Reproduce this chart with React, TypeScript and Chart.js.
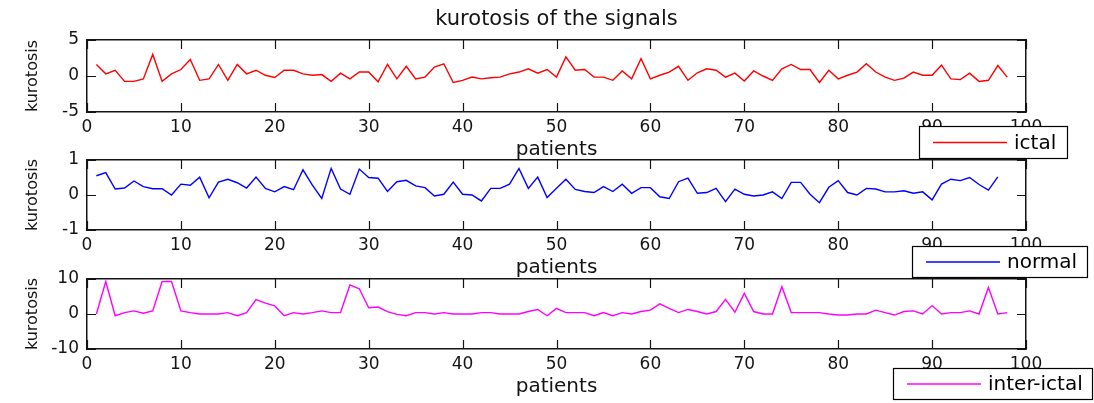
import React, { useEffect, useRef } from "react";
import { Chart, registerables } from "chart.js";

Chart.register(...registerables);

const W = 1094;
const H = 403;
const FONT = "'DejaVu Sans', 'Liberation Sans', sans-serif";

// ---- text ----
const mainTitle = "kurotosis of the signals";
const yAxisLabel = "kurotosis";
const xAxisLabel = "patients";

// ---- series ----
const seriesNames = ["ictal", "normal", "inter-ictal"];
const seriesColors = ["#ff0000", "#0000ff", "#ff00ff"];

const ictal = [
  1.6, 0.3, 0.8, -0.75, -0.75, -0.4, 3.0, -0.75, 0.3, 0.9,
  2.3, -0.6, -0.4, 1.6, -0.6, 1.6, 0.3, 0.8, 0.1, -0.2,
  0.8, 0.8, 0.3, 0.1, 0.2, -0.75, 0.4, -0.4, 0.55, 0.55,
  -0.8, 1.6, -0.4, 1.35, -0.4, -0.15, 1.25, 1.7, -0.9, -0.6,
  -0.15, -0.4, -0.25, -0.15, 0.3, 0.55, 1.0, 0.4, 0.9, -0.15,
  2.65, 0.8, 0.9, -0.15, -0.15, -0.6, 0.7, -0.4, 2.4, -0.4,
  0.1, 0.55, 1.35, -0.6, 0.45, 1.0, 0.8, -0.15, 0.4, -0.7,
  0.7, 0.0, -0.6, 1.0, 1.6, 0.9, 0.9, -0.9, 0.8, -0.4,
  0.1, 0.55, 1.7, 0.55, -0.15, -0.6, -0.3, 0.55, 0.1, 0.1,
  1.5, -0.4, -0.5, 0.4, -0.75, -0.6, 1.45, -0.15,
];

const normal = [
  0.55, 0.64, 0.17, 0.2, 0.4, 0.24, 0.18, 0.18, 0.0, 0.31,
  0.28, 0.51, -0.08, 0.37, 0.45, 0.35, 0.2, 0.51, 0.19, 0.09,
  0.24, 0.15, 0.72, 0.28, -0.1, 0.76, 0.17, 0.02, 0.74, 0.5,
  0.48, 0.1, 0.38, 0.42, 0.26, 0.21, -0.03, 0.02, 0.37, 0.02,
  0.0, -0.17, 0.19, 0.19, 0.31, 0.76, 0.19, 0.51, -0.07, 0.19,
  0.45, 0.16, 0.1, 0.07, 0.24, 0.1, 0.31, 0.05, 0.21, 0.21,
  -0.05, -0.1, 0.38, 0.48, 0.05, 0.07, 0.19, -0.19, 0.17, 0.02,
  -0.03, 0.0, 0.09, -0.1, 0.36, 0.36, 0.02, -0.22, 0.22, 0.41,
  0.07, 0.0, 0.19, 0.17, 0.09, 0.09, 0.12, 0.05, 0.09, -0.14,
  0.31, 0.45, 0.41, 0.5, 0.3, 0.14, 0.52,
];

const interIctal = [
  0, 9.3, -0.5, 0.4, 0.9, 0.2, 0.9, 9.3, 9.3, 0.9,
  0.4, 0, 0, 0, 0.4, -0.5, 0.4, 4.1, 3.1, 2.3,
  -0.5, 0.4, 0, 0.4, 0.9, 0.4, 0.4, 8.3, 7.2, 1.8,
  2.0, 0.7, -0.1, -0.5, 0.4, 0.4, 0, 0.4, 0, 0,
  0, 0.4, 0.4, 0, 0, 0, 0.7, 1.3, -0.5, 1.6,
  0.4, 0.4, 0.4, -0.5, 0.4, -0.5, 0.4, 0, 0.7, 1.1,
  2.9, 1.6, 0.4, 1.3, 0.7, 0, 0.7, 4.2, 0.5, 5.9,
  0.7, 0, 0, 7.8, 0.4, 0.4, 0.4, 0.4, 0, -0.3,
  -0.3, 0, 0, 1.1, 0.4, -0.3, 0.7, 0.9, 0, 2.4,
  0, 0.4, 0.4, 0.9, 0, 7.6, 0, 0.4,
];

const seriesValues = [ictal, normal, interIctal];

// ---- axes ----
const xMin = 0;
const xMax = 100;
const xStep = 10;
const yMins = [-5, -1, -10];
const yMaxs = [5, 1, 10];
const ySteps = [5, 1, 10];

// ---- layout (pixels) ----
const PLOT_LEFT = 87;
const PLOT_RIGHT = 1026;
const TITLE_Y = 20;
const panels = [
  { top: 40, bottom: 112, legend: { x: 919, y: 126, w: 149, h: 33 } },
  { top: 160, bottom: 230, legend: { x: 912, y: 246, w: 176, h: 32 } },
  { top: 279, bottom: 349, legend: { x: 893, y: 368, w: 200, h: 32 } },
];
const X_AXIS_H = 50;
const TICK_LEN = 9;
const INK = "#141414";

const legendBoxPlugin = {
  id: "legendBox",
  afterDraw(chart: any, _args: any, opts: any) {
    const ctx = chart.ctx;
    const ds = chart.data.datasets[0];
    const { x, y, w, h } = opts;
    ctx.save();
    ctx.fillStyle = "#ffffff";
    ctx.fillRect(x, y, w, h);
    ctx.strokeStyle = "#000000";
    ctx.lineWidth = 1.2;
    ctx.strokeRect(x + 0.5, y + 0.5, w - 1, h - 1);
    const cy = y + h / 2;
    ctx.strokeStyle = ds.borderColor;
    ctx.lineWidth = 1.4;
    ctx.beginPath();
    ctx.moveTo(x + 14, cy);
    ctx.lineTo(x + 88, cy);
    ctx.stroke();
    ctx.fillStyle = "#000000";
    ctx.font = `20px ${FONT}`;
    ctx.textBaseline = "middle";
    ctx.textAlign = "left";
    ctx.fillText(ds.label, x + 95, cy + 1);
    ctx.restore();
  },
};

// inward tick marks on all four sides, placed from the scales' own ticks
const innerTicksPlugin = {
  id: "innerTicks",
  afterDatasetsDraw(chart: any) {
    const { ctx, chartArea: a, scales } = chart;
    const xs = scales.x;
    const ys = scales.y;
    ctx.save();
    ctx.strokeStyle = INK;
    ctx.lineWidth = 1.2;
    ctx.beginPath();
    xs.ticks.forEach((t: any) => {
      const px = Math.round(xs.getPixelForValue(t.value)) + 0.5;
      ctx.moveTo(px, a.bottom);
      ctx.lineTo(px, a.bottom - TICK_LEN);
      ctx.moveTo(px, a.top);
      ctx.lineTo(px, a.top + TICK_LEN);
    });
    ys.ticks.forEach((t: any) => {
      const py = Math.round(ys.getPixelForValue(t.value)) + 0.5;
      ctx.moveTo(a.left, py);
      ctx.lineTo(a.left + TICK_LEN, py);
      ctx.moveTo(a.right, py);
      ctx.lineTo(a.right - TICK_LEN, py);
    });
    ctx.stroke();
    ctx.restore();
  },
};

const mainTitlePlugin = {
  id: "mainTitle",
  afterDraw(chart: any, _args: any, opts: any) {
    if (!opts.text) return;
    const { ctx, chartArea: a } = chart;
    ctx.save();
    ctx.fillStyle = INK;
    ctx.font = `21px ${FONT}`;
    ctx.textAlign = "center";
    ctx.textBaseline = "middle";
    ctx.fillText(opts.text, (a.left + a.right) / 2, opts.y);
    ctx.restore();
  },
};

function makeConfig(i: number): any {
  const p = panels[i];
  const noGrid = { display: false, drawTicks: false, drawOnChartArea: false };
  const border = { display: true, color: INK, width: 1.5 };
  return {
    type: "line",
    data: {
      datasets: [
        {
          label: seriesNames[i],
          data: seriesValues[i].map((v, k) => ({ x: k + 1, y: v })),
          borderColor: seriesColors[i],
          backgroundColor: seriesColors[i],
          borderWidth: 1.4,
          pointRadius: 0,
          tension: 0,
          fill: false,
        },
      ],
    },
    options: {
      responsive: false,
      animation: false,
      devicePixelRatio: 1,
      layout: {
        padding: {
          left: 0,
          right: W - PLOT_RIGHT,
          top: p.top,
          bottom: H - (p.bottom + X_AXIS_H),
        },
      },
      plugins: {
        legend: { display: false },
        tooltip: { enabled: false },
        title: { display: false },
        legendBox: p.legend,
        mainTitle: { text: i === 0 ? mainTitle : "", y: TITLE_Y },
      },
      scales: {
        x: {
          type: "linear",
          position: "bottom",
          min: xMin,
          max: xMax,
          ticks: {
            stepSize: xStep,
            padding: 5,
            color: INK,
            font: { family: FONT, size: 17 },
            maxRotation: 0,
            autoSkip: false,
          },
          grid: noGrid,
          border,
          title: {
            display: true,
            text: xAxisLabel,
            color: INK,
            font: { family: FONT, size: 20 },
            padding: { top: 0, bottom: 0 },
          },
          afterFit: (s: any) => {
            s.height = X_AXIS_H;
          },
        },
        x2: {
          type: "linear",
          axis: "x",
          position: "top",
          min: xMin,
          max: xMax,
          ticks: { stepSize: xStep, display: false },
          grid: noGrid,
          border,
          afterFit: (s: any) => {
            s.height = 0;
          },
        },
        y: {
          type: "linear",
          position: "left",
          min: yMins[i],
          max: yMaxs[i],
          ticks: {
            stepSize: ySteps[i],
            padding: 8,
            color: INK,
            font: { family: FONT, size: 17 },
          },
          grid: noGrid,
          border,
          title: {
            display: true,
            text: yAxisLabel,
            color: INK,
            font: { family: FONT, size: 16 },
            padding: { top: 23, bottom: 0 },
          },
          afterFit: (s: any) => {
            s.width = PLOT_LEFT;
          },
        },
        y2: {
          type: "linear",
          axis: "y",
          position: "right",
          min: yMins[i],
          max: yMaxs[i],
          ticks: { stepSize: ySteps[i], display: false },
          grid: noGrid,
          border,
          afterFit: (s: any) => {
            s.width = 0;
          },
        },
      },
    },
    plugins: [innerTicksPlugin, mainTitlePlugin, legendBoxPlugin],
  };
}

function Panel({ index }: { index: number }) {
  const ref = useRef<HTMLCanvasElement | null>(null);
  useEffect(() => {
    if (!ref.current) return;
    const chart = new Chart(ref.current, makeConfig(index));
    return () => chart.destroy();
  }, [index]);
  return (
    <canvas
      ref={ref}
      width={W}
      height={H}
      style={{ position: "absolute", left: 0, top: 0, width: W, height: H }}
    />
  );
}

export default function App() {
  return (
    <div
      style={{
        position: "fixed",
        left: 0,
        top: 0,
        width: W,
        height: H,
        background: "#ffffff",
        overflow: "hidden",
      }}
    >
      <Panel index={0} />
      <Panel index={1} />
      <Panel index={2} />
    </div>
  );
}
